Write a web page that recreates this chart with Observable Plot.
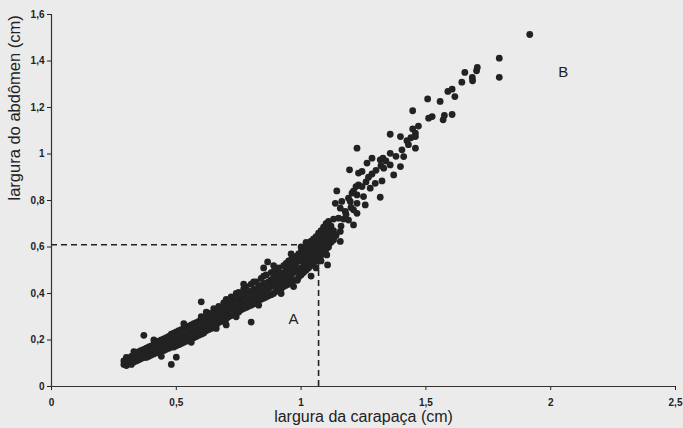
<!DOCTYPE html>
<html>
<head>
<meta charset="utf-8">
<script src="https://cdn.jsdelivr.net/npm/d3@7"></script>
<script src="https://cdn.jsdelivr.net/npm/@observablehq/plot@0.6"></script>
<style>
  html, body { margin: 0; padding: 0; background: #ecebec; }
  #chart { width: 683px; height: 428px; }
  svg { display: block; }
</style>
</head>
<body>
<div id="chart"></div>
<script>
// ---- data ----
const xLabel = "largura da carapaça (cm)";
const yLabel = "largura do abdômen (cm)";
const xTicks = [0, 0.5, 1, 1.5, 2, 2.5];
const yTicks = [0, 0.2, 0.4, 0.6, 0.8, 1, 1.2, 1.4, 1.6];

// dense lower band: [largura da carapaça, [larguras do abdômen at that carapace width]]
const bandRows = [
  [0.29,[0.095,0.11]],[0.30,[0.09,0.105,0.125]],[0.31,[0.10,0.115]],[0.32,[0.095,0.11,0.13]],
  [0.33,[0.105,0.12,0.135]],[0.34,[0.11,0.125,0.145]],[0.35,[0.115,0.13,0.15]],[0.36,[0.12,0.135,0.155]],
  [0.37,[0.125,0.14,0.16]],[0.38,[0.125,0.145,0.165]],[0.39,[0.13,0.15,0.17]],[0.40,[0.135,0.155,0.175]],
  [0.41,[0.14,0.16,0.18]],[0.42,[0.145,0.165,0.19]],[0.43,[0.145,0.17,0.195]],[0.44,[0.15,0.175,0.20]],
  [0.45,[0.155,0.18,0.205]],[0.46,[0.16,0.185,0.21]],[0.47,[0.165,0.19,0.215]],[0.48,[0.17,0.195,0.225]],
  [0.49,[0.17,0.20,0.23]],[0.50,[0.175,0.205,0.235]],[0.51,[0.18,0.21,0.24]],[0.52,[0.185,0.215,0.245]],
  [0.53,[0.19,0.22,0.25]],[0.54,[0.195,0.225,0.255]],[0.55,[0.20,0.23,0.26]],[0.56,[0.205,0.235,0.265]],
  [0.57,[0.21,0.24,0.27]],[0.58,[0.215,0.245,0.275]],[0.59,[0.22,0.25,0.28]],[0.60,[0.225,0.255,0.285,0.30]],
  [0.61,[0.23,0.26,0.29]],[0.62,[0.24,0.265,0.295]],[0.63,[0.245,0.27,0.30,0.315]],[0.64,[0.25,0.28,0.31]],
  [0.65,[0.26,0.285,0.315,0.335]],[0.66,[0.265,0.295,0.325]],[0.67,[0.275,0.30,0.33,0.345]],[0.68,[0.28,0.31,0.34]],
  [0.69,[0.285,0.315,0.345,0.36]],[0.70,[0.29,0.32,0.35,0.375]],[0.71,[0.30,0.33,0.36]],[0.72,[0.305,0.335,0.365,0.385]],
  [0.73,[0.31,0.34,0.37]],[0.74,[0.315,0.345,0.375,0.40]],[0.75,[0.32,0.35,0.38,0.405]],[0.76,[0.33,0.36,0.39]],
  [0.77,[0.335,0.365,0.395,0.42]],[0.78,[0.34,0.37,0.40,0.43]],[0.79,[0.345,0.375,0.405]],[0.80,[0.35,0.38,0.41,0.44]],
  [0.81,[0.355,0.385,0.415,0.45]],[0.82,[0.36,0.39,0.42,0.45]],[0.83,[0.37,0.40,0.43]],[0.84,[0.375,0.405,0.435,0.465]],
  [0.85,[0.38,0.41,0.44,0.475]],[0.86,[0.385,0.415,0.445,0.48]],[0.87,[0.39,0.42,0.45]],[0.88,[0.395,0.43,0.46,0.49]],
  [0.89,[0.40,0.435,0.465,0.495]],[0.90,[0.41,0.44,0.47,0.50]],[0.91,[0.415,0.445,0.48,0.51]],[0.92,[0.42,0.455,0.485]],
  [0.93,[0.43,0.46,0.49,0.52]],[0.94,[0.435,0.465,0.50,0.53]],[0.95,[0.44,0.475,0.505,0.54]],[0.96,[0.45,0.48,0.515,0.545]],
  [0.97,[0.455,0.49,0.52,0.555]],[0.98,[0.46,0.495,0.53,0.56]],[0.99,[0.47,0.505,0.54,0.57]],[1.00,[0.48,0.51,0.545,0.58,0.60]],
  [1.01,[0.49,0.52,0.555,0.59]],[1.02,[0.50,0.53,0.565,0.60]],[1.03,[0.51,0.545,0.575,0.61]],[1.04,[0.52,0.555,0.59,0.625]],
  [1.05,[0.53,0.565,0.60,0.635]],[1.06,[0.54,0.575,0.61,0.645]],[1.07,[0.55,0.585,0.62,0.66]],[1.08,[0.565,0.60,0.635,0.67]],
  [1.09,[0.58,0.615,0.65,0.685]],[1.10,[0.59,0.625,0.66,0.70]],[1.11,[0.61,0.64,0.675,0.71]],[1.12,[0.62,0.655,0.69]],
  [1.13,[0.64,0.67,0.72]]
];

// points on the ragged edges of the band: [carapaça, abdômen]
const edgePoints = [
  [0.33,0.15],[0.41,0.20],[0.44,0.13],[0.53,0.27],[0.56,0.19],[0.62,0.32],[0.66,0.25],[0.74,0.30],
  [0.77,0.44],[0.83,0.35],[0.89,0.52],[0.92,0.40],[0.96,0.57],[0.97,0.43],[1.02,0.62],[1.08,0.54]
];

// isolated points off the band: [carapaça, abdômen]
const outlierPoints = [
  [0.37,0.22],[0.48,0.095],[0.50,0.126],[0.60,0.364],[0.70,0.265],[0.80,0.277],[0.85,0.51],[0.866,0.536],
  [0.985,0.457],[1.04,0.475],[1.06,0.51],[1.106,0.523],[1.103,0.566]
];

// steeper upper branch: [carapaça, abdômen]
const upperPoints = [
  [1.103,0.702],[1.123,0.667],[1.157,0.667],[1.157,0.624],[1.150,0.724],[1.190,0.716],[1.210,0.695],
  [1.157,0.767],[1.177,0.753],[1.210,0.760],[1.224,0.745],[1.137,0.788],[1.163,0.796],[1.197,0.796],
  [1.224,0.788],[1.257,0.781],[1.143,0.841],[1.204,0.832],[1.224,0.824],[1.250,0.817],[1.317,0.814],
  [1.230,0.867],[1.244,0.860],[1.277,0.853],[1.297,0.874],[1.324,0.884],[1.194,0.932],[1.230,0.918],
  [1.244,0.925],[1.284,0.914],[1.371,0.910],[1.331,0.939],[1.357,0.953],[1.398,0.946],[1.317,0.975],
  [1.284,0.982],[1.264,0.961],[1.357,1.003],[1.411,0.989],[1.328,0.982],[1.224,1.025],[1.404,1.018],
  [1.458,1.025],[1.357,1.085],[1.398,1.075],[1.424,1.057],[1.447,1.108],[1.458,1.090],[1.458,1.075],
  [1.447,1.186],[1.511,1.154],[1.525,1.161],[1.569,1.147],[1.574,1.166],[1.605,1.170],[1.507,1.237],
  [1.557,1.226],[1.588,1.269],[1.605,1.279],[1.616,1.247],[1.644,1.309],[1.656,1.351],[1.686,1.329],
  [1.687,1.315],[1.703,1.358],[1.706,1.372],[1.794,1.330],[1.794,1.412],[1.916,1.514],
  [1.10,0.62],[1.11,0.60],[1.13,0.63],[1.14,0.65],[1.16,0.69],[1.17,0.72],[1.18,0.74],[1.20,0.77],
  [1.19,0.81],[1.21,0.84],[1.22,0.86],[1.26,0.88],[1.27,0.90],[1.30,0.93],[1.32,0.95],[1.34,0.97],
  [1.38,0.99],[1.43,1.04],[1.44,1.07],[1.47,1.12]
];

// reference point for the dashed guide lines
const refCarapaca = [1.07];
const refAbdomen = [0.61];

// region labels
const regionNames = ["A", "B"];
const regionX = [0.97, 2.05];
const regionY = [0.29, 1.35];

// ---- build tables ----
const pairs = arr => arr.map(([c, a]) => ({c, a}));
const points = [
  ...bandRows.flatMap(([c, ys]) => ys.map(a => ({c, a}))),
  ...pairs(edgePoints),
  ...pairs(outlierPoints),
  ...pairs(upperPoints)
];
const guide = refCarapaca.map((c, i) => ({c, a: refAbdomen[i]}));
const regions = regionNames.map((t, i) => ({t, x: regionX[i], y: regionY[i]}));
const fmt = d => String(d).replace(".", ",");

const ink = "#222";
const chart = Plot.plot({
  width: 683,
  height: 428,
  marginLeft: 51,
  marginRight: 8,
  marginTop: 14,
  marginBottom: 42,
  style: {background: "#ecebec", fontFamily: "'Liberation Sans', Arial, sans-serif", color: ink},
  x: {domain: [0, 2.5], ticks: xTicks, tickFormat: fmt, label: null},
  y: {domain: [0, 1.6], ticks: yTicks, tickFormat: fmt, label: null},
  marks: [
    Plot.axisX({ticks: xTicks, tickFormat: fmt, tickSize: 4, tickPadding: 8, fontSize: 10, fontWeight: "bold", label: null, stroke: ink, fill: ink}),
    Plot.axisY({ticks: yTicks, tickFormat: fmt, tickSize: 4, tickPadding: 3, fontSize: 10, fontWeight: "bold", label: null, stroke: ink, fill: ink}),
    Plot.ruleX([0], {stroke: "#333", strokeWidth: 1.2}),
    Plot.ruleY([0], {stroke: "#333", strokeWidth: 1.2}),
    Plot.ruleY(guide, {y: "a", x1: 0, x2: "c", stroke: ink, strokeWidth: 1.6, strokeDasharray: "6,4"}),
    Plot.ruleX(guide, {x: "c", y1: 0, y2: "a", stroke: ink, strokeWidth: 1.6, strokeDasharray: "6,4"}),
    Plot.dot(points, {x: "c", y: "a", r: 3.4, fill: ink, stroke: "none"}),
    Plot.text(regions, {x: "x", y: "y", text: "t", fontSize: 15, fill: ink}),
    Plot.text([xLabel], {text: d => d, frameAnchor: "bottom", dy: 35, fontSize: 16, fill: ink}),
    Plot.text([yLabel], {text: d => d, frameAnchor: "left", rotate: -90, dx: -37, fontSize: 16.5, fill: ink})
  ]
});
document.getElementById("chart").appendChild(chart);
</script>
</body>
</html>
